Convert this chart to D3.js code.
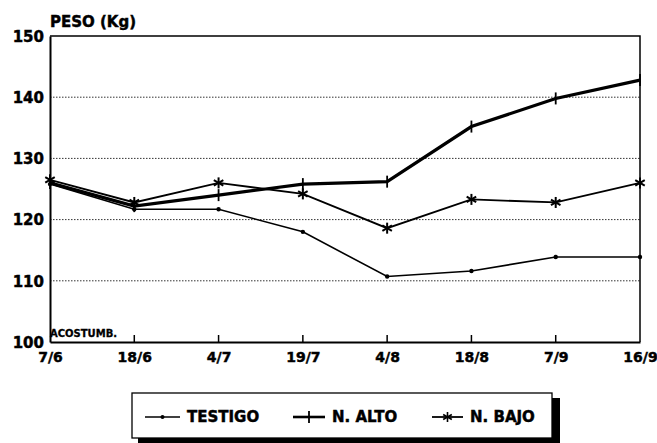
<!DOCTYPE html>
<html><head><meta charset="utf-8">
<script src="https://cdn.jsdelivr.net/npm/d3@7"></script>
<style>
html,body{margin:0;padding:0;background:#fff;}
text{font-family:"DejaVu Sans",sans-serif;font-weight:bold;fill:#000;stroke:#000;stroke-width:0.45px;}
</style></head>
<body><svg id="chart" width="657" height="443"></svg>
<script>
const dates = ["7/6","18/6","4/7","19/7","4/8","18/8","7/9","16/9"];
const testigo = [125.8,121.7,121.7,118.0,110.7,111.6,113.9,113.9];
const nAlto   = [126.0,122.2,124.0,125.8,126.2,135.2,139.8,142.8];
const nBajo   = [126.5,122.8,126.0,124.2,118.6,123.3,122.8,126.0];
const yTicks  = [100,110,120,130,140,150];
const seriesNames = ["TESTIGO","N. ALTO","N. BAJO"];

const svg = d3.select("#chart");
const L=50, R=640, T=36, B=342;
const x = d3.scalePoint().domain(dates).range([L,R]).padding(0);
const y = d3.scaleLinear().domain([100,150]).range([B,T]);

// gridlines
svg.append("g").selectAll("line").data(yTicks.filter(v=>v>100 && v<150)).join("line")
  .attr("x1",L).attr("x2",R).attr("y1",d=>y(d)).attr("y2",d=>y(d))
  .attr("stroke","#333").attr("stroke-width",1).attr("stroke-dasharray","1.5,1.5");

// frame
svg.append("path").attr("d",`M${L},${T}H${R}V${B}`).attr("fill","none").attr("stroke","#000").attr("stroke-width",1.5);
// y axis
const yAxis = d3.axisLeft(y).tickValues(yTicks).tickSize(0).tickPadding(6);
const gy = svg.append("g").attr("transform",`translate(${L},0)`).call(yAxis);
gy.select(".domain").attr("stroke","#000").attr("stroke-width",2);
gy.selectAll("text").attr("font-size",15).attr("font-family","DejaVu Sans").attr("font-weight","bold").attr("dy","0.35em");
// x axis
const xAxis = d3.axisBottom(x).tickSize(0).tickPadding(10);
const gx = svg.append("g").attr("transform",`translate(0,${B})`).call(xAxis);
gx.select(".domain").attr("stroke","#000").attr("stroke-width",2);
gx.selectAll("text").attr("font-size",14).attr("font-family","DejaVu Sans").attr("font-weight","bold").attr("dy","0.71em");
// upward ticks
svg.append("g").selectAll("line").data(dates.slice(1,-1)).join("line")
  .attr("x1",d=>x(d)).attr("x2",d=>x(d)).attr("y1",B).attr("y2",B-7)
  .attr("stroke","#000").attr("stroke-width",1.5);

svg.append("text").attr("x",L).attr("y",27).attr("font-size",15).text("PESO (Kg)");
svg.append("text").attr("x",L).attr("y",337).attr("font-size",10).style("stroke-width","0.3px").text("ACOSTUMB.");

const line = d3.line().x((d,i)=>x(dates[i])).y(d=>y(d));

function star(g, cx, cy, r, sw){
  for(let k=0;k<3;k++){
    const a = Math.PI/2 + k*Math.PI/3;
    g.append("line").attr("x1",cx-r*Math.cos(a)).attr("y1",cy-r*Math.sin(a))
      .attr("x2",cx+r*Math.cos(a)).attr("y2",cy+r*Math.sin(a))
      .attr("stroke","#000").attr("stroke-width",sw);
  }
}
function plus(g,cx,cy,h,sw){
  g.append("line").attr("x1",cx).attr("x2",cx).attr("y1",cy-h).attr("y2",cy+h).attr("stroke","#000").attr("stroke-width",sw);
}

// TESTIGO
svg.append("path").datum(testigo).attr("d",line).attr("fill","none").attr("stroke","#000").attr("stroke-width",1.6);
svg.append("g").selectAll("circle").data(testigo).join("circle")
  .attr("cx",(d,i)=>x(dates[i])).attr("cy",d=>y(d)).attr("r",2.2).attr("fill","#000");
// N. BAJO
svg.append("path").datum(nBajo).attr("d",line).attr("fill","none").attr("stroke","#000").attr("stroke-width",1.8);
const gb = svg.append("g");
nBajo.forEach((d,i)=>star(gb,x(dates[i]),y(d),5.5,2));
// N. ALTO
svg.append("path").datum(nAlto).attr("d",line).attr("fill","none").attr("stroke","#000").attr("stroke-width",3.2);
const ga = svg.append("g");
nAlto.forEach((d,i)=>plus(ga,x(dates[i]),y(d),6,1.8));

// legend
const lg = svg.append("g");
lg.append("rect").attr("x",138).attr("y",398).attr("width",422).attr("height",45).attr("fill","#000");
lg.append("rect").attr("x",132).attr("y",393).attr("width",420).attr("height",45).attr("fill","#fff").attr("stroke","#000").attr("stroke-width",1.3);
const ly = 417;
const items = [
  {name:seriesNames[0], x1:145, x2:180, tx:187, type:"dot"},
  {name:seriesNames[1], x1:293, x2:325, tx:332, type:"plus"},
  {name:seriesNames[2], x1:432, x2:463, tx:470, type:"star"}
];
items.forEach(it=>{
  const sw = it.type==="plus"?2.6:(it.type==="star"?1.8:1.6);
  lg.append("line").attr("x1",it.x1).attr("x2",it.x2).attr("y1",ly).attr("y2",ly).attr("stroke","#000").attr("stroke-width",sw);
  const cx=(it.x1+it.x2)/2;
  if(it.type==="dot") lg.append("circle").attr("cx",cx).attr("cy",ly).attr("r",2).attr("fill","#000");
  if(it.type==="plus") plus(lg,cx,ly,6,1.8);
  if(it.type==="star") star(lg,cx,ly,5,1.6);
  lg.append("text").attr("x",it.tx).attr("y",ly).attr("dy","0.36em").attr("font-size",15).text(it.name);
});
</script></body></html>
